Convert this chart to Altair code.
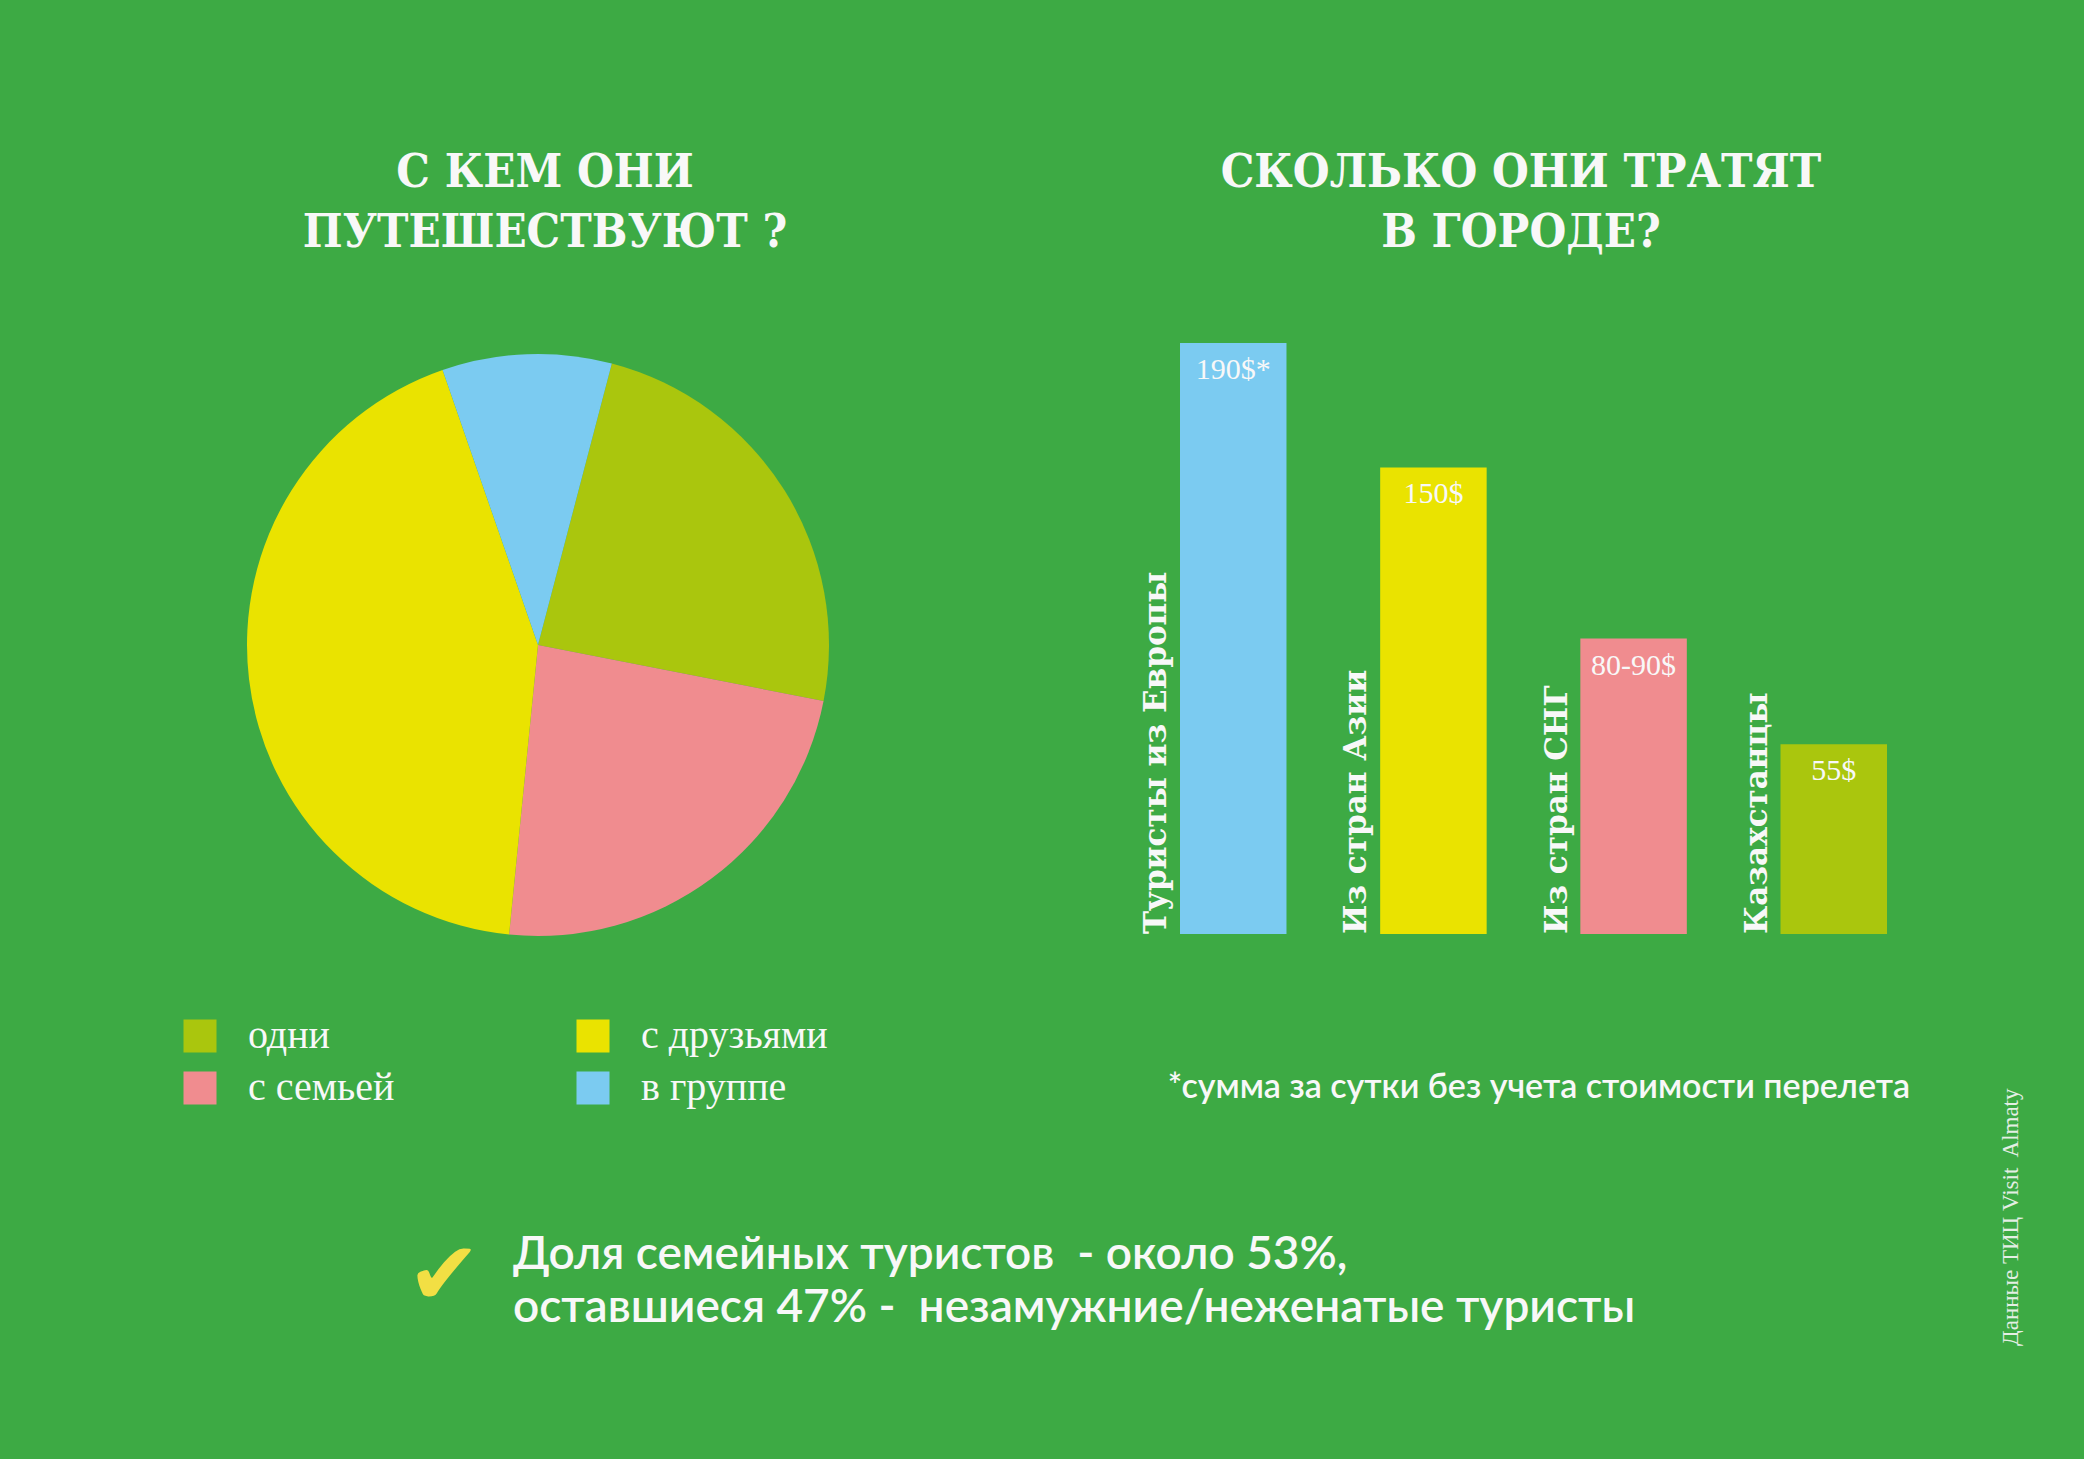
import math
import altair as alt
import pandas as pd

BG = "#3DAA44"
WHITE = "#F8F8F8"
NBSP = "\u00a0"

# ---- pie: "С кем они путешествуют?"
pie_groups = ["одни", "с семьей", "с друзьями", "в группе"]
pie_shares = [24.0, 23.5, 43.1, 9.4]
pie_colors = ["#AAC60D", "#F08C8F", "#EAE300", "#7BCBF1"]

# ---- bars: "Сколько они тратят в городе?"
bar_regions = ["Туристы из Европы", "Из стран Азии", "Из стран СНГ", "Казахстанцы"]
bar_values = [190, 150, 95, 61]
bar_labels = ["190$*", "150$", "80-90$", "55$"]
bar_colors = ["#7BCBF1", "#EAE300", "#F08C8F", "#AAC60D"]

# ---- texts
title_left = ["С КЕМ ОНИ", "ПУТЕШЕСТВУЮТ ?"]
title_right = ["СКОЛЬКО ОНИ ТРАТЯТ", "В ГОРОДЕ?"]
footnote = "*сумма за сутки без учета стоимости перелета"
summary = ["Доля семейных туристов" + NBSP + " - около 53%,",
           "оставшиеся 47% -" + NBSP + " незамужние/неженатые туристы"]
credit = "Данные ТИЦ Visit" + NBSP + " Almaty"
check = "✔"

pie_df = pd.DataFrame({"group": pie_groups, "share": pie_shares,
                       "idx": list(range(len(pie_groups)))})
bar_df = pd.DataFrame({"region": bar_regions, "value": bar_values,
                       "label": bar_labels})
one = pd.DataFrame({"k": [0]})

start = math.radians(14.7)

pie = alt.Chart(pie_df).mark_arc(radius=291).encode(
    theta=alt.Theta("share:Q", stack=True,
                    scale=alt.Scale(range=[start, start + 2 * math.pi])),
    order=alt.Order("idx:Q"),
    color=alt.Color(
        "group:N",
        scale=alt.Scale(domain=pie_groups, range=pie_colors),
        legend=alt.Legend(
            orient="none", legendX=180, legendY=1016, columns=2,
            symbolType="square", symbolSize=1089, symbolStrokeWidth=0,
            symbolOpacity=1, labelFont="Liberation Serif", labelFontSize=40,
            labelColor=WHITE, labelOffset=28, labelLimit=500,
            columnPadding=178, rowPadding=12, title=None,
        ),
    ),
    x=alt.value(538),
    y=alt.value(645),
)

xscale = alt.Scale(range=[1180, 1887], paddingInner=0.468, paddingOuter=0)
yscale = alt.Scale(domain=[0, 190], range=[934, 343], nice=False)

bars = alt.Chart(bar_df).mark_bar().encode(
    x=alt.X("region:N", sort=bar_regions, scale=xscale, axis=None),
    y=alt.Y("value:Q", scale=yscale, axis=None),
    fill=alt.Fill("region:N", scale=alt.Scale(domain=bar_regions, range=bar_colors),
                  legend=None),
)

value_text = alt.Chart(bar_df).mark_text(
    font="Liberation Serif", fontSize=30, color=WHITE, baseline="middle", dy=27
).encode(
    x=alt.X("region:N", sort=bar_regions),
    y=alt.Y("value:Q"),
    text="label:N",
)

cat_text = alt.Chart(bar_df).mark_text(
    font="DejaVu Serif", fontWeight="bold", fontSize=31, color=WHITE,
    angle=270, align="left", baseline="alphabetic", xOffset=-67
).encode(
    x=alt.X("region:N", sort=bar_regions),
    y=alt.datum(0),
    text="region:N",
)

def txt(text, x, y, **kw):
    return alt.Chart(one).mark_text(text=text, **kw).encode(
        x=alt.value(x), y=alt.value(y))

title_font = dict(font="DejaVu Serif Condensed", fontWeight="bold", fontSize=47,
                  color=WHITE, align="center", baseline="alphabetic", lineHeight=60)

t_left = txt(title_left, 545, 187, **title_font)
t_right = txt(title_right, 1521, 187, **title_font)

t_foot = txt(footnote, 1539, 1088, font="Lato", fontWeight=600, fontSize=34,
             color=WHITE, align="center", baseline="middle")

t_summary = txt(summary, 513, 1269, font="Lato", fontWeight=600, fontSize=46,
                color=WHITE, align="left", baseline="alphabetic", lineHeight=53)

t_check = txt(check, 444, 1278, font="DejaVu Sans", fontSize=88,
              color="#F2DF44", align="center", baseline="middle")

t_credit = txt(credit, 2011, 1346, font="Liberation Serif", fontSize=23,
               color="#E4EEE4", align="left", baseline="middle", angle=270)

chart = alt.layer(
    pie, bars, value_text, cat_text, t_left, t_right, t_foot, t_summary,
    t_check, t_credit
).properties(
    width=2084, height=1459,
    autosize=alt.AutoSizeParams(type="none"),
    padding=0,
    background=BG,
).configure_view(stroke=None)

chart.save("out.html", embed_options={"renderer": "svg", "actions": False})
